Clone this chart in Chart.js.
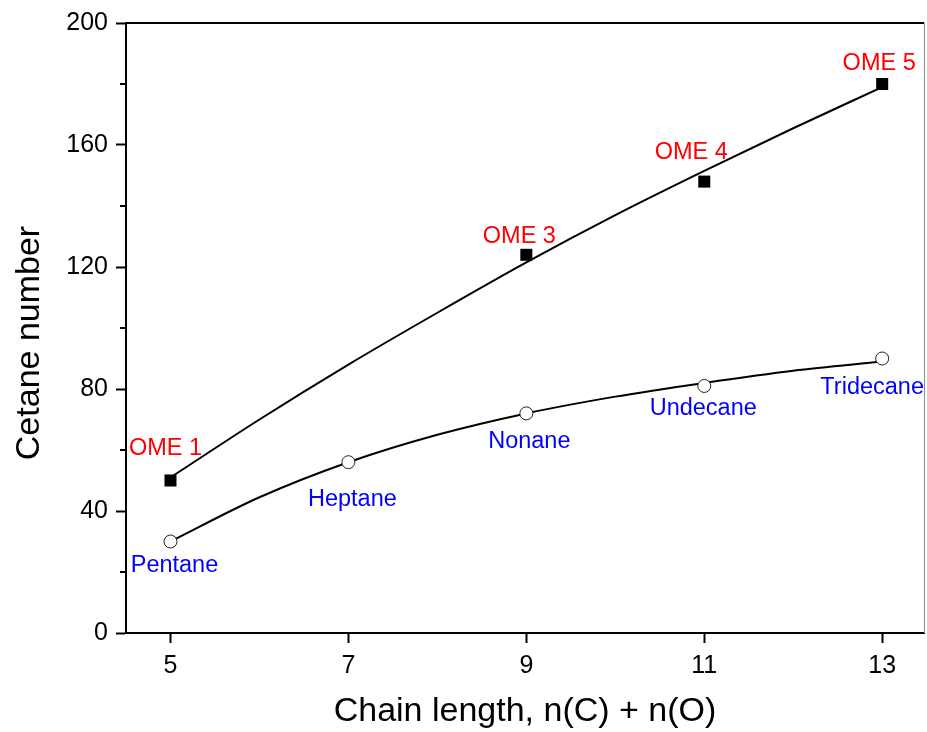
<!DOCTYPE html>
<html><head><meta charset="utf-8">
<script src="https://cdn.jsdelivr.net/npm/chart.js@4.4.1/dist/chart.umd.min.js"></script>
<style>html,body{margin:0;padding:0;background:#fff;overflow:hidden}#wrap{width:927px;height:732px}</style>
</head><body><div id="wrap"><canvas id="c"></canvas></div>
<script>
// ---- data ----
const omeNames = ['OME 1', 'OME 3', 'OME 4', 'OME 5'];
const omeX = [5, 9, 11, 13];
const omeY = [50, 124, 148, 180];
const alkaneNames = ['Pentane', 'Heptane', 'Nonane', 'Undecane', 'Tridecane'];
const alkaneX = [5, 7, 9, 11, 13];
const alkaneY = [30, 56, 72, 81, 90];
// fitted curves
const fitX = [5, 6, 7, 8, 9, 10, 11, 12, 13];
const omeFitY = [51, 70, 88, 105, 121.5, 137, 151.5, 165.5, 179];
const alkaneFitY = [30, 44.5, 56, 65, 72, 77.5, 82, 86, 89];
const xTicks = [5, 7, 9, 11, 13];
const yTicks = [0, 40, 80, 120, 160, 200];
const yMinorTicks = [20, 60, 100, 140, 180];
const xTitle = 'Chain length, n(C) + n(O)';
const yTitle = 'Cetane number';

// ---- styles ----
const FONT = "'Liberation Sans', Arial, sans-serif";
const omeLabelOffsets = [[-5, -34], [-7, -20], [-13, -31], [-3, -22]];
const alkaneLabelOffsets = [[4, 22], [4, 35], [3, 26], [-1, 21], [-10, 27]];
const LABEL_SIZE = 23.5;
const Y_TITLE_SIZE = 34;
const Y_TITLE_POS = {x: 30, y: 343};

const toPts = (xs, ys) => xs.map((x, i) => ({x: x, y: ys[i]}));

const decorPlugin = {
  id: 'decor',
  afterDatasetsDraw(chart) {
    const ctx = chart.ctx, xs = chart.scales.x, ys = chart.scales.y;
    ctx.save();
    ctx.font = LABEL_SIZE + 'px ' + FONT;
    ctx.textAlign = 'center';
    ctx.textBaseline = 'alphabetic';
    const capShift = 0.358 * LABEL_SIZE;
    omeNames.forEach((n, i) => {
      ctx.fillStyle = '#ff0000';
      ctx.fillText(n, xs.getPixelForValue(omeX[i]) + omeLabelOffsets[i][0],
        ys.getPixelForValue(omeY[i]) + omeLabelOffsets[i][1] + capShift);
    });
    alkaneNames.forEach((n, i) => {
      ctx.fillStyle = '#0000ff';
      ctx.fillText(n, xs.getPixelForValue(alkaneX[i]) + alkaneLabelOffsets[i][0],
        ys.getPixelForValue(alkaneY[i]) + alkaneLabelOffsets[i][1] + capShift);
    });
    ctx.restore();
  },
  afterDraw(chart) {
    const ctx = chart.ctx, a = chart.chartArea, ys = chart.scales.y;
    ctx.save();
    ctx.strokeStyle = '#000';
    ctx.lineWidth = 2;
    ctx.beginPath();
    ctx.moveTo(a.left - 1, a.top);
    ctx.lineTo(a.right, a.top);
    ctx.stroke();
    ctx.strokeStyle = '#8a8a8a';
    ctx.lineWidth = 1;
    ctx.beginPath();
    ctx.moveTo(a.right + 0.5, a.top);
    ctx.lineTo(a.right + 0.5, a.bottom);
    ctx.stroke();
    ctx.strokeStyle = '#000';
    ctx.lineWidth = 2;
    yMinorTicks.forEach(v => {
      const y = Math.round(ys.getPixelForValue(v));
      ctx.beginPath();
      ctx.moveTo(a.left - 6, y);
      ctx.lineTo(a.left, y);
      ctx.stroke();
    });
    // y axis title
    ctx.translate(Y_TITLE_POS.x, Y_TITLE_POS.y);
    ctx.rotate(-Math.PI / 2);
    ctx.fillStyle = '#000';
    ctx.font = Y_TITLE_SIZE + 'px ' + FONT;
    ctx.textAlign = 'center';
    ctx.textBaseline = 'middle';
    ctx.fillText(yTitle, 0, 0);
    ctx.restore();
  }
};

new Chart(document.getElementById('c'), {
  type: 'scatter',
  data: {
    datasets: [
      {
        label: 'OME', data: toPts(omeX, omeY), order: 0,
        pointStyle: 'rect', pointRadius: 8.5, pointHoverRadius: 8.5,
        backgroundColor: '#000', borderColor: '#000', borderWidth: 0, showLine: false
      },
      {
        label: 'Alkanes', data: toPts(alkaneX, alkaneY), order: 0,
        pointStyle: 'circle', pointRadius: 6.5, pointHoverRadius: 6.5,
        backgroundColor: '#fff', borderColor: '#222', borderWidth: 1, showLine: false
      },
      {
        type: 'line', label: 'OME fit', data: toPts(fitX, omeFitY), order: 1,
        borderColor: '#000', borderWidth: 2, pointRadius: 0, fill: false,
        cubicInterpolationMode: 'monotone'
      },
      {
        type: 'line', label: 'Alkane fit', data: toPts(fitX, alkaneFitY), order: 1,
        borderColor: '#000', borderWidth: 2, pointRadius: 0, fill: false,
        cubicInterpolationMode: 'monotone'
      }
    ]
  },
  options: {
    responsive: true,
    maintainAspectRatio: false,
    animation: false,
    layout: {autoPadding: false, padding: {top: 23, right: 3, left: 0, bottom: 0}},
    plugins: {legend: {display: false}, tooltip: {enabled: false}},
    scales: {
      x: {
        type: 'linear', min: 4.5, max: 13.47,
        afterBuildTicks: s => { s.ticks = xTicks.map(v => ({value: v})); },
        afterFit: s => { s.height = 99; s.paddingLeft = 0; s.paddingRight = 0; },
        grid: {display: true, drawOnChartArea: false, drawTicks: true, tickLength: 10, tickWidth: 2, tickColor: '#000'},
        border: {display: true, color: '#000', width: 2},
        ticks: {color: '#000', padding: 8, font: {family: FONT, size: 25}, maxRotation: 0},
        title: {display: true, text: xTitle, color: '#000', font: {family: FONT, size: 34}, padding: {top: 0, bottom: 0}}
      },
      y: {
        type: 'linear', min: 0, max: 200,
        afterBuildTicks: s => { s.ticks = yTicks.map(v => ({value: v})); },
        afterFit: s => { s.width = 126; s.paddingTop = 0; s.paddingBottom = 0; },
        grid: {display: true, drawOnChartArea: false, drawTicks: true, tickLength: 10, tickWidth: 2, tickColor: '#000'},
        border: {display: true, color: '#000', width: 2},
        ticks: {color: '#000', padding: 8, font: {family: FONT, size: 25}},
        title: {display: false}
      }
    }
  },
  plugins: [decorPlugin]
});
</script>
</body></html>
